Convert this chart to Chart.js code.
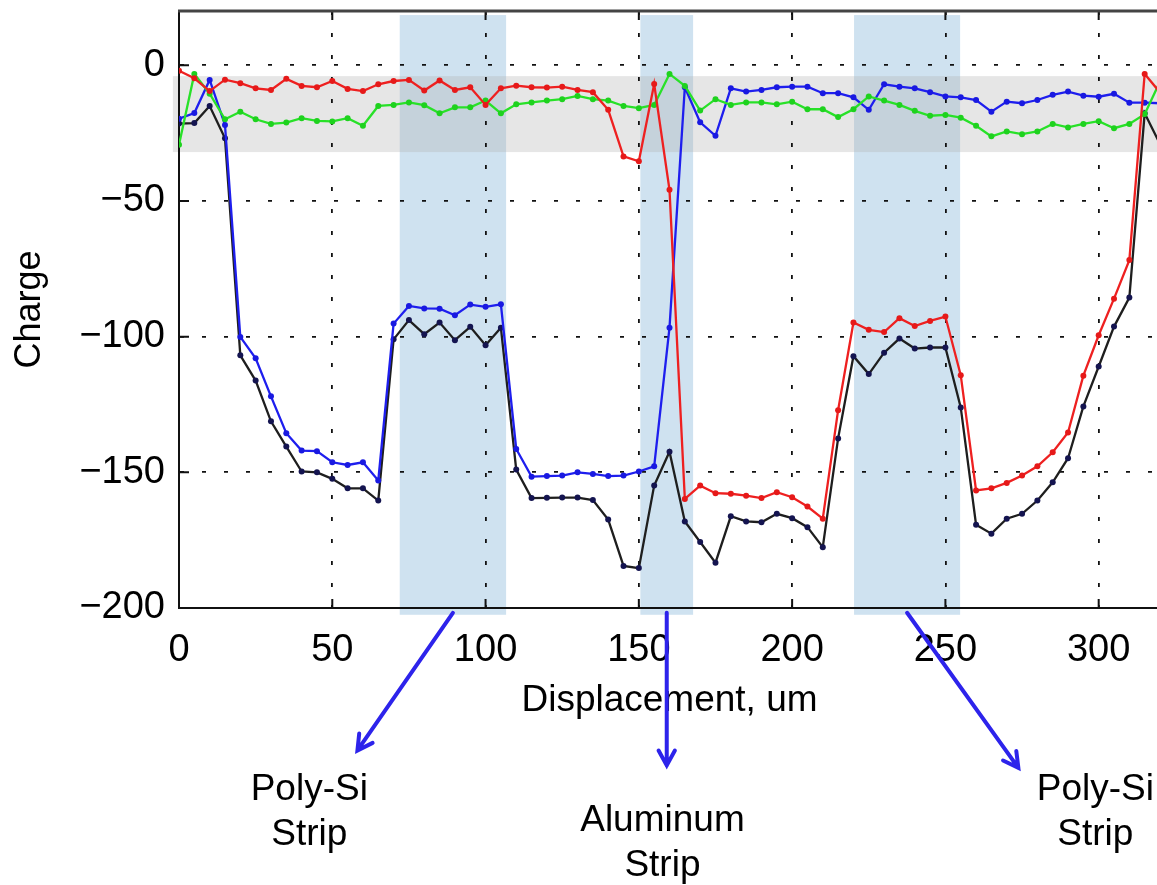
<!DOCTYPE html>
<html>
<head>
<meta charset="utf-8">
<script src="https://cdn.jsdelivr.net/npm/chart.js@4.4.1/dist/chart.umd.min.js"></script>
<style>
  html, body { margin: 0; padding: 0; background: #fff; overflow: hidden; }
  #wrap { position: absolute; left: 0; top: 0; width: 1170px; height: 885px; }
</style>
</head>
<body>
<div id="wrap"><canvas id="chargeChart" width="1170" height="885"></canvas></div>
<script>
// --- DATA ---
const displacement = [0, 5, 10, 15, 20, 25, 30, 35, 40, 45, 50, 55, 60, 65, 70, 75, 80, 85, 90, 95,
  100, 105, 110, 115, 120, 125, 130, 135, 140, 145, 150, 155, 160, 165, 170, 175, 180, 185, 190, 195,
  200, 205, 210, 215, 220, 225, 230, 235, 240, 245, 250, 255, 260, 265, 270, 275, 280, 285, 290, 295,
  300, 305, 310, 315, 320];

const redCharge = [-2.0, -4.8, -9.5, -5.3, -6.6, -8.5, -9.1, -5.0, -7.6, -8.1,
  -5.8, -8.7, -9.5, -7.0, -5.8, -5.4, -9.3, -5.6, -9.1, -8.1,
  -14.6, -8.5, -7.5, -8.1, -8.2, -7.9, -9.1, -9.9, -16.4, -33.6,
  -35.4, -6.9, -45.9, -159.8, -154.9, -157.7, -157.9, -158.6, -159.5, -157.3,
  -159.2, -162.6, -167.1, -127.1, -94.8, -97.5, -98.3, -93.2, -96.1, -94.2,
  -92.6, -114.2, -156.7, -155.9, -153.9, -151.2, -147.8, -142.6, -135.3, -114.4,
  -99.5, -86.0, -71.8, -3.2, -10.0];

const greenCharge = [-29.3, -3.2, -10.5, -19.9, -17.1, -19.9, -21.6, -21.1, -19.5, -20.5,
  -20.7, -19.5, -22.3, -15.0, -14.6, -13.7, -14.7, -17.7, -15.5, -15.5,
  -13.0, -17.7, -14.4, -13.7, -13.0, -12.5, -11.3, -12.5, -13.0, -15.0,
  -15.8, -14.6, -3.2, -7.6, -16.7, -12.5, -14.6, -13.7, -13.7, -14.4,
  -13.4, -16.2, -16.2, -19.1, -16.2, -11.5, -13.0, -14.6, -16.8, -18.6,
  -18.3, -19.3, -22.3, -26.2, -24.4, -25.4, -24.4, -21.6, -22.9, -21.6,
  -20.6, -23.2, -21.6, -18.0, -6.0];

const blueCharge = [-19.7, -17.6, -5.4, -22.0, -100.1, -108.0, -122.0, -135.6, -142.0, -142.2,
  -146.3, -147.3, -146.3, -153.0, -95.2, -88.7, -89.6, -89.7, -92.1, -88.2,
  -89.0, -88.1, -141.4, -151.6, -151.4, -151.2, -150.0, -150.6, -151.4, -151.2,
  -149.7, -147.8, -96.7, -8.1, -21.0, -26.0, -8.5, -9.7, -9.1, -8.1,
  -7.9, -7.9, -10.3, -10.3, -11.8, -16.4, -7.0, -7.9, -8.5, -9.9,
  -11.5, -11.8, -12.8, -17.1, -13.4, -14.0, -12.8, -10.9, -9.7, -11.2,
  -11.6, -10.5, -13.8, -13.8, -14.0];

const blackCharge = [-21.5, -21.3, -15.0, -26.9, -106.9, -116.2, -131.2, -140.5, -149.7, -150.0,
  -152.4, -155.9, -155.9, -160.4, -101.0, -93.9, -99.1, -94.8, -101.3, -96.4,
  -103.2, -96.7, -149.0, -159.5, -159.4, -159.3, -159.3, -160.2, -167.4, -184.5,
  -185.3, -154.9, -142.4, -168.1, -175.7, -183.3, -166.2, -168.1, -168.4, -165.3,
  -166.9, -170.2, -177.6, -137.5, -107.2, -113.8, -105.9, -100.7, -104.4, -104.0,
  -104.0, -126.1, -169.3, -172.6, -167.1, -165.3, -160.4, -153.7, -144.8, -125.7,
  -111.0, -96.3, -85.6, -17.7, -29.0];

// highlighted strips (x range, um) and the grey noise band (charge range)
const stripStart = [72, 150.5, 220.2];
const stripEnd = [106.7, 167.7, 254.8];
const stripTop = 18.5;
const stripBottom = -202.5;
const noiseBand = [-4, -32];

// annotation labels below the axis (data units)
const stripNames = [['Poly-Si', 'Strip'], ['Aluminum', 'Strip'], ['Poly-Si', 'Strip']];
const labelX = [42.5, 157.7, 298.9];
const labelY = [-270.7, -282.2, -270.7];
const arrowTipX = [58.2, 159.1, 273.8];
const arrowTipY = [-252.5, -258, -258.9];

// --- HELPERS ---
const FONT = "'Liberation Sans', Arial, sans-serif";
const toPoints = (ys) => displacement.map((x, i) => ({ x: x, y: ys[i] }));
const minusFmt = (v) => v < 0 ? '\u2212' + Math.abs(v) : String(v);

function series(label, values, color, pointColor) {
    return {
        label: label,
        data: toPoints(values),
        borderColor: color,
        backgroundColor: pointColor,
        borderWidth: 2.3,
        pointRadius: 3,
        pointBorderWidth: 0,
        pointBackgroundColor: pointColor,
        tension: 0,
        fill: false
    };
}

// bands drawn underneath the grid and the lines
const bandsPlugin = {
    id: 'bands',
    beforeDraw(chart) {
        const { ctx, scales: { x, y } } = chart;
        ctx.save();
        ctx.fillStyle = 'rgb(207,226,240)';
        for (let i = 0; i < stripStart.length; i++) {
            const x0 = x.getPixelForValue(stripStart[i]);
            const x1 = x.getPixelForValue(stripEnd[i]);
            const y0 = y.getPixelForValue(stripTop);
            const y1 = y.getPixelForValue(stripBottom);
            ctx.fillRect(x0, y0, x1 - x0, y1 - y0);
        }
        ctx.fillStyle = 'rgba(174,174,174,0.31)';
        const gx0 = x.getPixelForValue(-2);
        const gx1 = x.getPixelForValue(330);
        const gy0 = y.getPixelForValue(noiseBand[0]);
        const gy1 = y.getPixelForValue(noiseBand[1]);
        ctx.fillRect(gx0, gy0, gx1 - gx0, gy1 - gy0);
        ctx.restore();
    }
};

// matlab style frame: top edge and inward tick marks, then arrows + labels
const framePlugin = {
    id: 'frame',
    afterDraw(chart) {
        const { ctx, chartArea: a, scales: { x, y } } = chart;
        ctx.save();
        ctx.strokeStyle = '#111';
        ctx.lineWidth = 2;
        ctx.beginPath();
        x.ticks.forEach(t => {
            const px = x.getPixelForValue(t.value);
            ctx.moveTo(px, a.bottom); ctx.lineTo(px, a.bottom - 9);
            ctx.moveTo(px, a.top); ctx.lineTo(px, a.top + 9);
        });
        y.ticks.forEach(t => {
            const py = y.getPixelForValue(t.value);
            ctx.moveTo(a.left, py); ctx.lineTo(a.left + 10, py);
        });
        ctx.stroke();

        ctx.strokeStyle = '#444';
        ctx.lineWidth = 3;
        ctx.beginPath();
        ctx.moveTo(a.left - 1, a.top);
        ctx.lineTo(chart.width, a.top);
        ctx.stroke();

        // arrows from each strip down to its label
        ctx.strokeStyle = 'rgb(45,35,235)';
        ctx.lineWidth = 4;
        ctx.lineCap = 'round';
        for (let i = 0; i < stripStart.length; i++) {
            const sx = x.getPixelForValue((stripStart[i] + stripEnd[i]) / 2);
            const sy = y.getPixelForValue(stripBottom) - 2;
            const ex = x.getPixelForValue(arrowTipX[i]);
            const ey = y.getPixelForValue(arrowTipY[i]);
            const ang = Math.atan2(ey - sy, ex - sx);
            const len = 17, spread = 0.5;
            ctx.beginPath();
            ctx.moveTo(sx, sy); ctx.lineTo(ex, ey);
            ctx.moveTo(ex - len * Math.cos(ang - spread), ey - len * Math.sin(ang - spread));
            ctx.lineTo(ex, ey);
            ctx.lineTo(ex - len * Math.cos(ang + spread), ey - len * Math.sin(ang + spread));
            ctx.stroke();
        }

        ctx.fillStyle = '#000';
        ctx.font = '37px ' + FONT;
        ctx.textAlign = 'center';
        ctx.textBaseline = 'alphabetic';
        stripNames.forEach((lines, i) => {
            const cx = x.getPixelForValue(labelX[i]);
            const by = y.getPixelForValue(labelY[i]);
            lines.forEach((txt, j) => ctx.fillText(txt, cx, by + j * 45));
        });
        ctx.restore();
    }
};

// --- CHART SETUP ---
const ctx = document.getElementById('chargeChart').getContext('2d');
const chart = new Chart(ctx, {
    type: 'line',
    data: {
        datasets: [
            series('Red', redCharge, 'rgb(238,32,32)', 'rgb(230,25,25)'),
            series('Green', greenCharge, 'rgb(40,225,40)', 'rgb(30,210,30)'),
            series('Blue', blueCharge, 'rgb(30,30,238)', 'rgb(25,25,225)'),
            series('Black', blackCharge, 'rgb(30,30,30)', 'rgb(20,20,80)')
        ]
    },
    options: {
        responsive: false,
        animation: false,
        devicePixelRatio: 1,
        layout: { padding: { top: 11, right: 10, left: 0, bottom: 0 } },
        plugins: { legend: { display: false }, tooltip: { enabled: false } },
        scales: {
            x: {
                type: 'linear',
                min: 0,
                max: 320,
                afterFit: (s) => { s.height = 277; s.paddingLeft = 0; s.paddingRight = 0; },
                ticks: {
                    stepSize: 50,
                    includeBounds: false,
                    maxRotation: 0,
                    padding: 20,
                    color: '#000',
                    font: { family: FONT, size: 38 }
                },
                grid: { color: '#111', lineWidth: 1.8, drawTicks: false },
                border: { display: true, color: '#111', width: 2, dash: [4, 18] },
                title: {
                    display: true,
                    text: 'Displacement, um',
                    color: '#000',
                    font: { family: FONT, size: 37 },
                    padding: { top: 0, bottom: 162 }
                }
            },
            y: {
                min: -200,
                max: 20,
                afterFit: (s) => { s.width = 179; s.paddingTop = 0; s.paddingBottom = 0; },
                ticks: {
                    stepSize: 50,
                    includeBounds: false,
                    padding: 14,
                    color: '#000',
                    font: { family: FONT, size: 38 },
                    callback: minusFmt
                },
                grid: { color: '#111', lineWidth: 1.8, drawTicks: false },
                border: { display: true, color: '#111', width: 2, dash: [4, 18] },
                title: {
                    display: true,
                    text: 'Charge',
                    color: '#000',
                    font: { family: FONT, size: 36 },
                    padding: { top: 8, bottom: 0 }
                }
            }
        }
    },
    plugins: [bandsPlugin, framePlugin]
});
</script>
</body>
</html>
